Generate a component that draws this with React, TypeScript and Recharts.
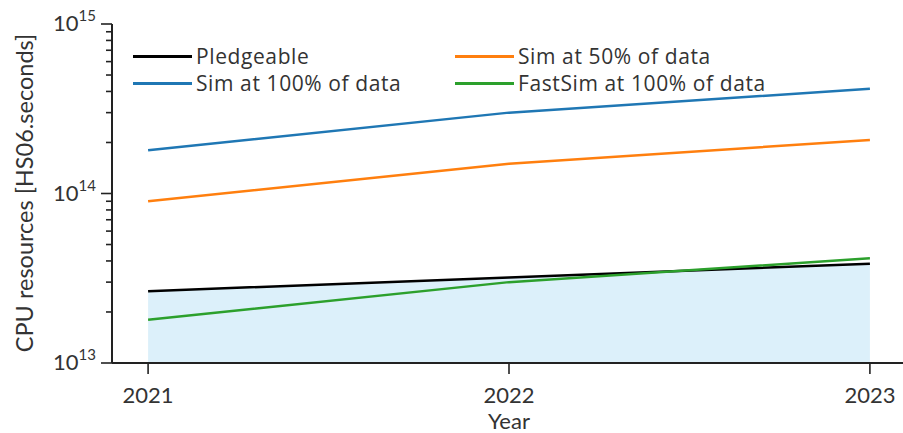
import { ComposedChart, Line, Area, XAxis, YAxis } from 'recharts'

const years = [2021, 2022, 2023]
const pledgeable = [2.65e13, 3.2e13, 3.85e13]
const sim50 = [9e13, 1.5e14, 2.07e14]
const sim100 = [1.8e14, 3.0e14, 4.15e14]
const fastSim100 = [1.8e13, 3.0e13, 4.15e13]

const yTicks = [
  1e13, 2e13, 3e13, 4e13, 5e13, 6e13, 7e13, 8e13, 9e13,
  1e14, 2e14, 3e14, 4e14, 5e14, 6e14, 7e14, 8e14, 9e14,
  1e15,
]

const legendItems = [
  { name: 'Pledgeable', color: '#000000' },
  { name: 'Sim at 50% of data', color: '#ff7f0e' },
  { name: 'Sim at 100% of data', color: '#1f77b4' },
  { name: 'FastSim at 100% of data', color: '#2ca02c' },
]

const data = years.map((year, i) => ({
  year,
  pledgeable: pledgeable[i],
  sim50: sim50[i],
  sim100: sim100[i],
  fastSim100: fastSim100[i],
}))

const FONT = 'Lato, "Open Sans", sans-serif'
const TEXT = '#333333'

function YTick(props: any) {
  const { x, y, payload } = props
  const exp = Math.log10(payload.value)
  const major = Math.abs(exp - Math.round(exp)) < 1e-6
  const len = major ? 11 : 6
  return (
    <g>
      <line x1={x - len} x2={x} y1={y} y2={y} stroke="#222" strokeWidth={1.6} />
      {major && (
        <text x={x - 16} y={y + 7} textAnchor="end" fontSize={22} fill={TEXT} fontFamily={FONT}>
          10
          <tspan dy={-10} fontSize={15}>
            {Math.round(exp)}
          </tspan>
        </text>
      )}
    </g>
  )
}

function XTick(props: any) {
  const { x, y, payload } = props
  return (
    <g>
      <line x1={x} x2={x} y1={y} y2={y + 11} stroke="#222" strokeWidth={1.6} />
      <text x={x} y={y + 40} textAnchor="middle" fontSize={22} fill={TEXT} fontFamily={FONT}>
        {payload.value}
      </text>
    </g>
  )
}

function YLabel() {
  return (
    <text
      transform="translate(33,193) rotate(-90)"
      textAnchor="middle"
      fontSize={23.5}
      fill={TEXT}
      fontFamily={FONT}
    >
      CPU resources [HS06.seconds]
    </text>
  )
}

function Legend() {
  return (
    <div
      style={{
        position: 'absolute',
        left: 133,
        top: 43,
        display: 'grid',
        gridTemplateColumns: '322px auto',
        fontFamily: '"Open Sans", sans-serif',
        fontSize: 21,
        letterSpacing: 0.6,
        color: TEXT,
        lineHeight: '27px',
      }}
    >
      {legendItems.map((item) => (
        <div key={item.name} style={{ display: 'flex', alignItems: 'center', gap: 4, height: 27 }}>
          <span style={{ display: 'inline-block', width: 59, height: 3, background: item.color }} />
          <span>{item.name}</span>
        </div>
      ))}
    </div>
  )
}

export default function App() {
  return (
    <div
      style={{
        position: 'absolute',
        left: 0,
        top: 0,
        width: 903,
        height: 433,
        overflow: 'hidden',
        background: '#fff',
      }}
    >
      <ComposedChart width={910} height={433} data={data} margin={{ top: 24, right: 4, bottom: 0, left: 0 }}>
        <XAxis
          dataKey="year"
          type="number"
          domain={[2020.9, 2023.1]}
          ticks={years}
          interval={0}
          height={70}
          tickSize={0}
          tickMargin={0}
          tick={<XTick />}
          axisLine={{ stroke: '#222', strokeWidth: 2 }}
          label={{ value: 'Year', position: 'insideBottom', offset: 4, fontSize: 22, fill: TEXT, fontFamily: FONT }}
        />
        <XAxis xAxisId="top" orientation="top" dataKey="year" type="number" domain={[2020.9, 2023.1]} height={0} tick={false} tickLine={false} axisLine={{ stroke: '#222', strokeWidth: 2 }} />
        <YAxis
          scale="log"
          type="number"
          domain={[1e13, 1e15]}
          ticks={yTicks}
          interval={0}
          allowDataOverflow
          width={112}
          tickSize={0}
          tickMargin={0}
          tick={<YTick />}
          axisLine={{ stroke: '#222', strokeWidth: 2 }}
          label={<YLabel />}
        />
        <Area dataKey="pledgeable" stroke="none" fill="#dcf0fa" fillOpacity={1} isAnimationActive={false} />
        <Line dataKey="pledgeable" stroke="#000" strokeWidth={2.5} dot={false} isAnimationActive={false} />
        <Line dataKey="sim50" stroke="#ff7f0e" strokeWidth={2.5} dot={false} isAnimationActive={false} />
        <Line dataKey="sim100" stroke="#1f77b4" strokeWidth={2.5} dot={false} isAnimationActive={false} />
        <Line dataKey="fastSim100" stroke="#2ca02c" strokeWidth={2.5} dot={false} isAnimationActive={false} />
      </ComposedChart>
      <Legend />
    </div>
  )
}
